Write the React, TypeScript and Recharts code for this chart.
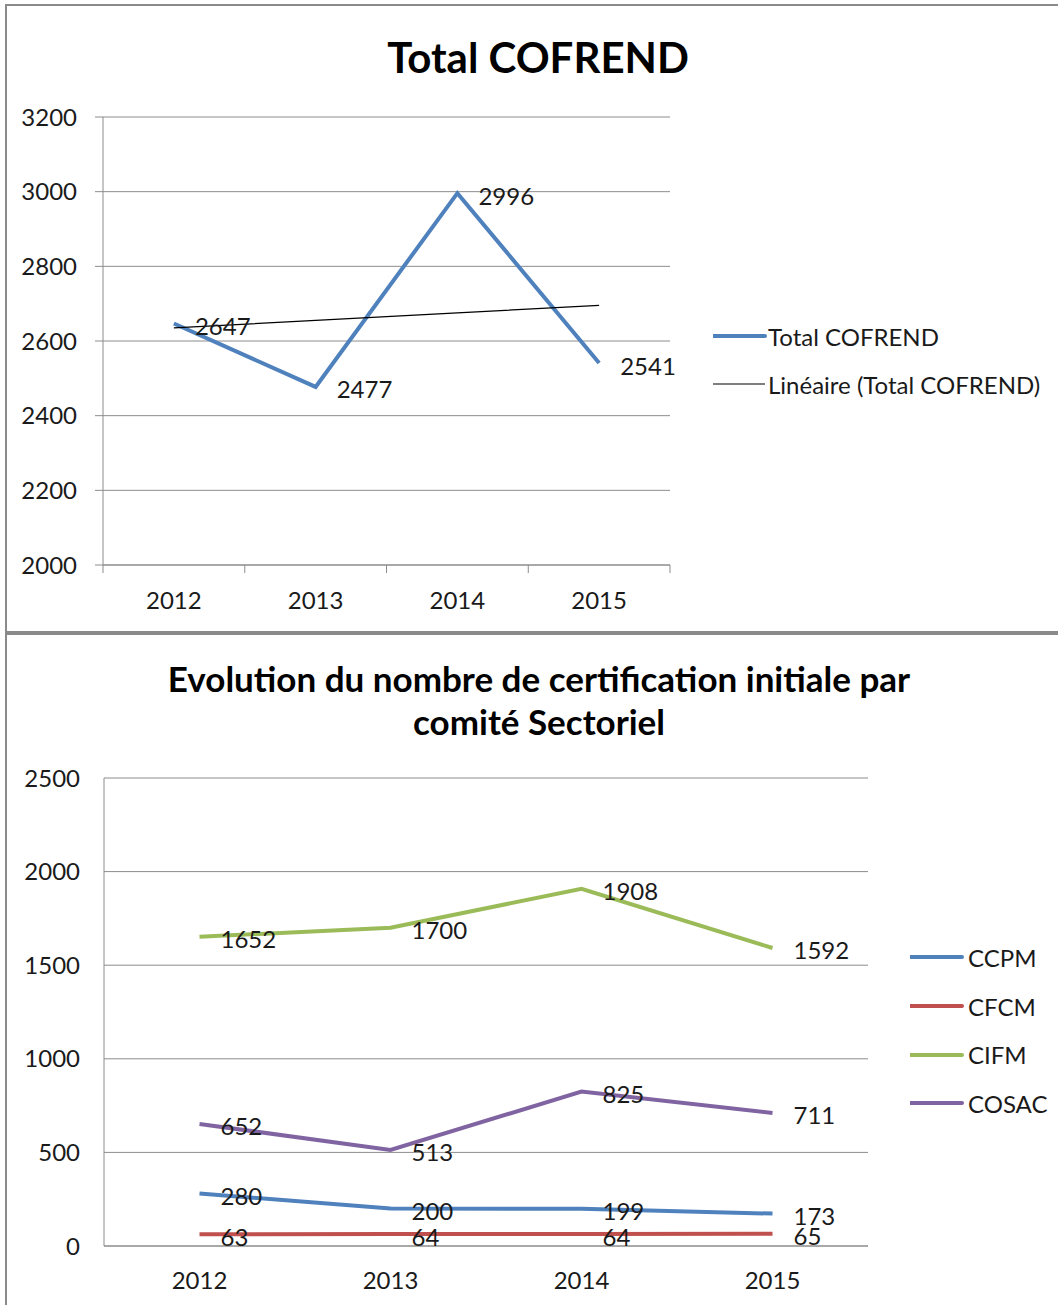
import React from "react";
import {
  LineChart,
  Line,
  XAxis,
  YAxis,
  CartesianGrid,
  Legend,
  LabelList,
} from "recharts";

// ---------- Data ----------
const years = ["2012", "2013", "2014", "2015"];
const totalCofrend = [2647, 2477, 2996, 2541];
const totalTicks = [2000, 2200, 2400, 2600, 2800, 3000, 3200];

const ccpm = [280, 200, 199, 173];
const cfcm = [63, 64, 64, 65];
const cifm = [1652, 1700, 1908, 1592];
const cosac = [652, 513, 825, 711];
const sectorTicks = [0, 500, 1000, 1500, 2000, 2500];

const TITLE_1 = "Total COFREND";
const TITLE_2_L1 = "Evolution du nombre de certification initiale par";
const TITLE_2_L2 = "comité Sectoriel";
const SERIES_1 = "Total COFREND";
const TREND_NAME = "Linéaire (Total COFREND)";
const SECTORS = ["CCPM", "CFCM", "CIFM", "COSAC"];

// Excel linear trendline (least squares over the category index)
const trendOf = (vals: number[]) => {
  const n = vals.length;
  const mx = (n - 1) / 2;
  const my = vals.reduce((a, b) => a + b, 0) / n;
  let sxy = 0;
  let sxx = 0;
  vals.forEach((v, i) => {
    sxy += (i - mx) * (v - my);
    sxx += (i - mx) * (i - mx);
  });
  const slope = sxy / sxx;
  return vals.map((_, i) => my + slope * (i - mx));
};
const totalTrend = trendOf(totalCofrend);

const data1 = years.map((y, i) => ({
  year: y,
  total: totalCofrend[i],
  trend: totalTrend[i],
}));
const data2 = years.map((y, i) => ({
  year: y,
  CCPM: ccpm[i],
  CFCM: cfcm[i],
  CIFM: cifm[i],
  COSAC: cosac[i],
}));

// ---------- Styles ----------
const FONT = "Lato, 'Liberation Sans', sans-serif";
const TXT = "#1a1a1a";
const GRID = "#8c8c8c";
const BORDER = "#8a8a8a";
const BLUE = "#4F81BD";
const RED = "#C0504D";
const GREEN = "#9BBB59";
const PURPLE = "#8064A2";
const FS = 24;

const widthByName: Record<string, number> = {
  [SERIES_1]: 4,
  [TREND_NAME]: 1.2,
  CCPM: 4,
  CFCM: 4,
  CIFM: 4,
  COSAC: 4,
};

const X1_TICK = 8;
const X1_MARGIN = 19;

const XTickWithMarks = (props: any) => {
  const { x, y, payload, index, visibleTicksCount } = props;
  const half = payload && payload.offset ? payload.offset : 0;
  const axisY = y - X1_TICK - X1_MARGIN;
  const last = index === visibleTicksCount - 1;
  return (
    <g>
      <line x1={x - half} x2={x - half} y1={axisY} y2={axisY + X1_TICK} stroke={GRID} strokeWidth={1} />
      {last && (
        <line x1={x + half} x2={x + half} y1={axisY} y2={axisY + X1_TICK} stroke={GRID} strokeWidth={1} />
      )}
      <text x={x} y={y} dy="0.71em" textAnchor="middle" fontSize={FS} fill={TXT} fontFamily={FONT}>
        {payload.value}
      </text>
    </g>
  );
};

const RightLabel = (props: any) => {
  const { x, y, value } = props;
  return (
    <text x={x + 21} y={y + 2} dominantBaseline="central" fontSize={FS} fill={TXT} fontFamily={FONT}>
      {value}
    </text>
  );
};

const LegendRows = (rowH: number, order: string[], sampleBox: number) => (props: any) => {
  const payload = [...(props.payload || [])].sort(
    (a: any, b: any) => order.indexOf(a.value) - order.indexOf(b.value)
  );
  return (
    <div style={{ fontFamily: FONT, fontSize: FS, color: TXT }}>
      {payload.map((p: any) => (
        <div key={p.value} style={{ height: rowH, display: "flex", alignItems: "center" }}>
          <svg width={sampleBox} height={10} style={{ display: "block", flex: "none" }}>
            <line
              x1={0}
              x2={52}
              y1={5}
              y2={5}
              stroke={p.color}
              strokeWidth={widthByName[p.value] || 4}
              strokeLinecap={widthByName[p.value] > 2 ? "round" : "butt"}
            />
          </svg>
          <span style={{ whiteSpace: "nowrap" }}>{p.value}</span>
        </div>
      ))}
    </div>
  );
};

export default function App() {
  return (
    <div
      style={{
        position: "absolute",
        left: 0,
        top: 0,
        width: 1058,
        height: 1305,
        background: "#fff",
        overflow: "hidden",
        fontFamily: FONT,
      }}
    >
      {/* frame lines */}
      <div style={{ position: "absolute", left: 5, top: 4, width: 2, height: 1301, background: BORDER }} />
      <div style={{ position: "absolute", left: 5, top: 4, width: 1053, height: 2, background: BORDER }} />
      <div style={{ position: "absolute", left: 5, top: 631, width: 1053, height: 4, background: BORDER }} />

      {/* Chart 1 */}
      <div style={{ position: "absolute", left: 0, top: 0, width: 1058, height: 631 }}>
        <LineChart
          width={1058}
          height={631}
          data={data1}
          margin={{ top: 117, right: 388, bottom: 0, left: 0 }}
        >
          <CartesianGrid horizontal vertical={false} stroke={GRID} strokeWidth={1} />
          <XAxis
            dataKey="year"
            scale="band"
            height={66}
            axisLine={{ stroke: GRID }}
            tickLine={false}
            tickSize={X1_TICK}
            tickMargin={X1_MARGIN}
            tick={<XTickWithMarks />}
            interval={0}
          />
          <YAxis
            width={103}
            domain={[2000, 3200]}
            ticks={totalTicks}
            axisLine={{ stroke: GRID }}
            tickLine={{ stroke: GRID }}
            tickSize={8}
            tickMargin={18}
            tick={{ fontSize: FS, fill: TXT, fontFamily: FONT }}
            interval={0}
          />
          <Line
            name={SERIES_1}
            dataKey="total"
            stroke={BLUE}
            strokeWidth={4}
            dot={false}
            activeDot={false}
            isAnimationActive={false}
            type="linear"
          >
            <LabelList dataKey="total" content={<RightLabel />} />
          </Line>
          <Line
            name={TREND_NAME}
            dataKey="trend"
            stroke="#000"
            strokeWidth={1.2}
            dot={false}
            activeDot={false}
            isAnimationActive={false}
            type="linear"
          />
          <Legend
            layout="horizontal"
            verticalAlign="middle"
            align="center"
            content={LegendRows(48, [SERIES_1, TREND_NAME], 55)}
            wrapperStyle={{ left: 713, top: 312, width: 345 }}
          />
        </LineChart>
      </div>
      <div
        style={{
          position: "absolute",
          left: 0,
          width: 1076,
          top: 33,
          textAlign: "center",
          fontSize: 42,
          fontWeight: 700,
          color: "#000",
          lineHeight: "48px",
        }}
      >
        {TITLE_1}
      </div>

      {/* Chart 2 */}
      <div style={{ position: "absolute", left: 0, top: 635, width: 1058, height: 670 }}>
        <LineChart
          width={1058}
          height={670}
          data={data2}
          margin={{ top: 143, right: 190, bottom: 0, left: 0 }}
        >
          <CartesianGrid horizontal vertical={false} stroke={GRID} strokeWidth={1} />
          <XAxis
            dataKey="year"
            scale="band"
            height={59}
            axisLine={{ stroke: GRID }}
            tickLine={false}
            tickSize={0}
            tickMargin={26}
            tick={{ fontSize: FS, fill: TXT, fontFamily: FONT }}
            interval={0}
          />
          <YAxis
            width={104}
            domain={[0, 2500]}
            ticks={sectorTicks}
            axisLine={{ stroke: GRID }}
            tickLine={false}
            tickSize={0}
            tickMargin={24}
            tick={{ fontSize: FS, fill: TXT, fontFamily: FONT }}
            interval={0}
          />
          <Line name="CCPM" dataKey="CCPM" stroke={BLUE} strokeWidth={4} dot={false} activeDot={false} isAnimationActive={false} type="linear">
            <LabelList dataKey="CCPM" content={<RightLabel />} />
          </Line>
          <Line name="CFCM" dataKey="CFCM" stroke={RED} strokeWidth={4} dot={false} activeDot={false} isAnimationActive={false} type="linear">
            <LabelList dataKey="CFCM" content={<RightLabel />} />
          </Line>
          <Line name="CIFM" dataKey="CIFM" stroke={GREEN} strokeWidth={4} dot={false} activeDot={false} isAnimationActive={false} type="linear">
            <LabelList dataKey="CIFM" content={<RightLabel />} />
          </Line>
          <Line name="COSAC" dataKey="COSAC" stroke={PURPLE} strokeWidth={4} dot={false} activeDot={false} isAnimationActive={false} type="linear">
            <LabelList dataKey="COSAC" content={<RightLabel />} />
          </Line>
          <Legend
            layout="horizontal"
            verticalAlign="middle"
            align="center"
            content={LegendRows(48.7, SECTORS, 58)}
            wrapperStyle={{ left: 910, top: 298, width: 148 }}
          />
        </LineChart>
      </div>
      <div
        style={{
          position: "absolute",
          left: 0,
          width: 1078,
          top: 657,
          textAlign: "center",
          fontSize: 35,
          fontWeight: 700,
          color: "#000",
          lineHeight: "43px",
        }}
      >
        <div>{TITLE_2_L1}</div>
        <div>{TITLE_2_L2}</div>
      </div>
    </div>
  );
}
